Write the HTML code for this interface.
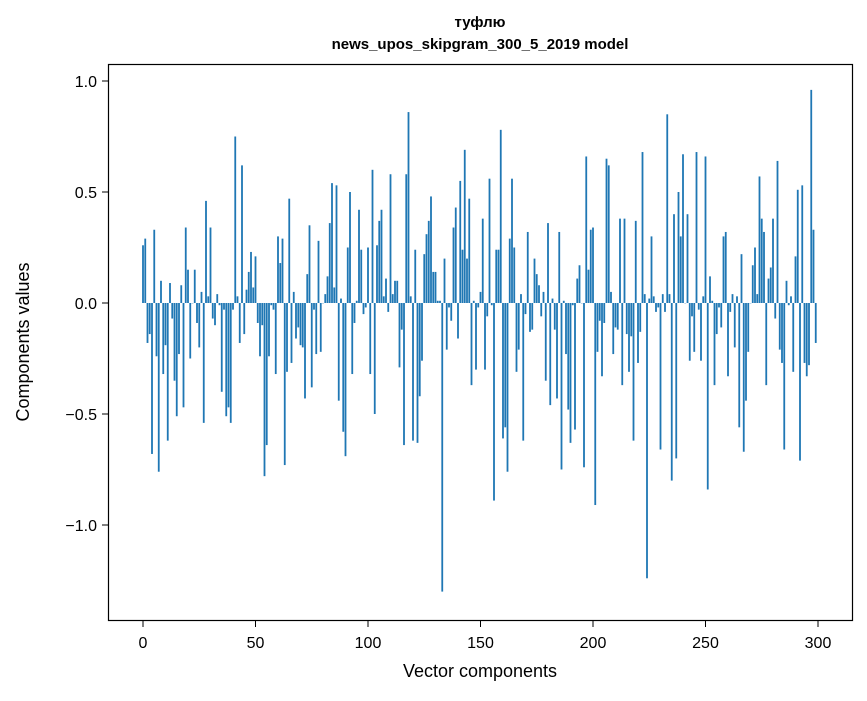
<!DOCTYPE html>
<html><head><meta charset="utf-8"><style>
body{margin:0;background:#fff;}
svg text{font-family:"Liberation Sans","DejaVu Sans",sans-serif;fill:#000;}
</style></head><body>
<svg id="chart" width="867" height="696" xmlns="http://www.w3.org/2000/svg">
<text x="480" y="27" font-size="15" font-weight="bold" text-anchor="middle">туфлю</text>
<text x="480" y="49" font-size="15" font-weight="bold" text-anchor="middle">news_upos_skipgram_300_5_2019 model</text>
<g id="bars"></g>
<rect x="108.5" y="64.5" width="744" height="556" fill="none" stroke="#000" stroke-width="1.2"/>
<g id="xticks"></g>
<g id="yticks"></g>
<text x="480" y="677" font-size="18" text-anchor="middle">Vector components</text>
<text transform="translate(29,342) rotate(-90)" font-size="18" text-anchor="middle">Components values</text>
</svg>
<script>
const values=[0.26,0.29,-0.18,-0.14,-0.68,0.33,-0.24,-0.76,0.10,-0.32,-0.19,-0.62,0.09,-0.07,-0.35,-0.51,-0.23,0.08,-0.47,0.34,0.15,-0.25,0.00,0.15,-0.09,-0.20,0.05,-0.54,0.46,0.03,0.34,-0.07,-0.10,0.04,-0.01,-0.40,-0.03,-0.51,-0.47,-0.54,-0.03,0.75,0.03,-0.18,0.62,-0.14,0.06,0.14,0.23,0.07,
0.21,-0.09,-0.24,-0.10,-0.78,-0.64,-0.24,-0.01,-0.03,-0.32,0.30,0.18,0.29,-0.73,-0.31,0.47,-0.27,0.05,-0.16,-0.11,-0.19,-0.20,-0.43,0.13,0.35,-0.38,-0.03,-0.23,0.28,-0.22,0.00,0.04,0.12,0.36,0.54,0.07,0.53,-0.44,0.02,-0.58,-0.69,0.25,0.50,-0.32,-0.09,0.01,0.42,0.24,-0.05,-0.02,
0.25,-0.32,0.60,-0.50,0.26,0.37,0.42,0.03,0.11,-0.04,0.58,0.04,0.10,0.10,-0.29,-0.12,-0.64,0.58,0.86,0.03,-0.62,0.24,-0.63,-0.42,-0.26,0.22,0.31,0.37,0.48,0.14,0.14,0.01,0.01,-1.30,0.20,-0.21,-0.02,-0.08,0.34,0.43,-0.16,0.55,0.24,0.69,0.20,0.47,-0.37,0.01,-0.30,-0.02,
0.05,0.38,-0.30,-0.06,0.56,-0.01,-0.89,0.24,0.24,0.78,-0.61,-0.56,-0.76,0.29,0.56,0.25,-0.31,-0.21,0.04,-0.62,-0.05,0.32,-0.13,-0.12,0.20,0.13,0.08,-0.06,0.05,-0.35,0.36,-0.46,0.02,-0.12,-0.43,0.32,-0.75,0.01,-0.23,-0.48,-0.63,-0.01,-0.57,0.11,0.17,0.00,-0.74,0.66,0.15,0.33,
0.34,-0.91,-0.22,-0.08,-0.33,-0.09,0.65,0.62,0.05,-0.23,-0.11,-0.12,0.38,-0.37,0.38,-0.14,-0.31,-0.15,-0.62,0.37,-0.27,-0.13,0.68,0.04,-1.24,0.02,0.30,0.03,-0.04,-0.02,-0.66,0.04,-0.04,0.85,0.04,-0.80,0.40,-0.70,0.50,0.30,0.67,0.00,0.40,-0.26,-0.06,-0.22,0.68,-0.03,-0.26,0.03,
0.66,-0.84,0.12,0.01,-0.37,-0.14,-0.02,-0.11,0.30,0.32,-0.33,-0.04,0.04,-0.20,0.03,-0.56,0.22,-0.67,-0.44,-0.22,0.00,0.17,0.25,0.04,0.57,0.38,0.32,-0.37,0.11,0.16,0.38,-0.07,0.64,-0.21,-0.27,-0.66,0.10,-0.01,0.03,-0.31,0.21,0.51,-0.71,0.53,-0.27,-0.33,-0.28,0.96,0.33,-0.18];
const xTicks=[0,50,100,150,200,250,300];
const yTicks=[1.0,0.5,0.0,-0.5,-1.0];
const yTickLabels=["1.0","0.5","0.0","\u22120.5","\u22121.0"];
const NS="http://www.w3.org/2000/svg";
const xs=v=>143+v*2.25;
const ys=v=>303-v*222;
const bars=document.getElementById('bars');
values.forEach((v,i)=>{
  const r=document.createElementNS(NS,'rect');
  
  
  const y0=ys(0),y1=ys(v);
  r.setAttribute('x',xs(i)-0.9);
  r.setAttribute('width',1.8);
  r.setAttribute('y',Math.min(y0,y1));
  r.setAttribute('height',Math.max(Math.abs(y1-y0),0.3));
  r.setAttribute('fill','#1f77b4');
  bars.appendChild(r);
});
const xg=document.getElementById('xticks');
xTicks.forEach(t=>{
  const l=document.createElementNS(NS,'line');
  
  
  l.setAttribute('x1',xs(t));l.setAttribute('x2',xs(t));
  l.setAttribute('y1',621);l.setAttribute('y2',627);
  l.setAttribute('stroke','#000');
  xg.appendChild(l);
  const tx=document.createElementNS(NS,'text');
  
  
  tx.setAttribute('x',xs(t));tx.setAttribute('y',648);
  tx.setAttribute('font-size','16');tx.setAttribute('text-anchor','middle');
  tx.textContent=t;
  xg.appendChild(tx);
});
const yg=document.getElementById('yticks');
yTicks.forEach((t,i)=>{
  const l=document.createElementNS(NS,'line');
  
  
  l.setAttribute('x1',102);l.setAttribute('x2',108);
  l.setAttribute('y1',ys(t));l.setAttribute('y2',ys(t));
  l.setAttribute('stroke','#000');
  yg.appendChild(l);
  const tx=document.createElementNS(NS,'text');
  
  
  tx.setAttribute('x',97);tx.setAttribute('y',ys(t)+6);
  tx.setAttribute('font-size','16');tx.setAttribute('text-anchor','end');
  tx.textContent=yTickLabels[i];
  yg.appendChild(tx);
});
</script>
</body></html>
